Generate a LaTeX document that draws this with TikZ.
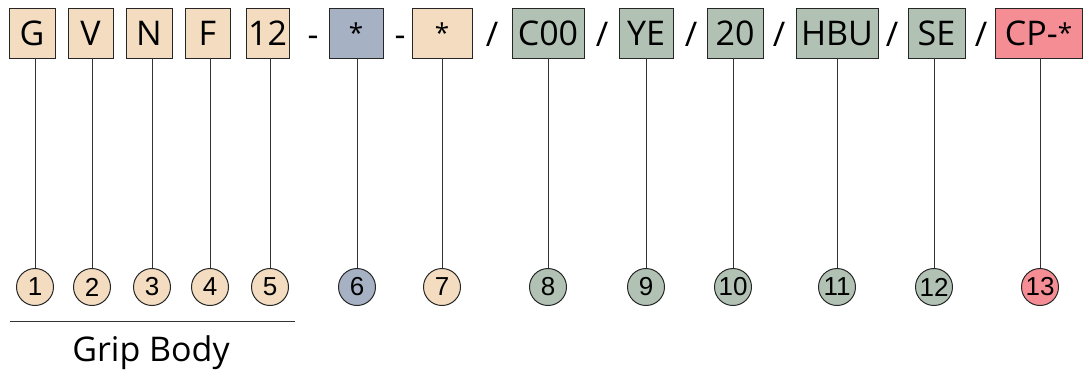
\documentclass[tikz,border=0pt]{standalone}
\usepackage{fontspec}
\setmainfont{Open Sans}
\newfontfamily\digitfont{Liberation Sans}
\usepackage{xcolor}
\usetikzlibrary{positioning}

\definecolor{beige}{HTML}{F3DCC0}
\definecolor{slate}{HTML}{A6B1C4}
\definecolor{sage}{HTML}{B1C2B5}
\definecolor{rose}{HTML}{F58D95}

\newcommand{\wild}{{\fontsize{26}{26}\selectfont\raisebox{3pt}{*}}}

\tikzset{
    codebox/.style={draw=black!85, line width=0.9pt, minimum height=50pt, inner sep=0pt,
        text height=24pt, text depth=0pt, font=\fontsize{34}{34}\selectfont},
    numcirc/.style={circle, draw=black!85, line width=1pt, minimum size=37pt, inner sep=0pt,
        font=\digitfont\fontsize{26}{26}\selectfont},
    sepmark/.style={anchor=base, inner sep=0pt, font=\fontsize{34}{34}\selectfont},
    link/.style={draw=black!80, line width=0.8pt}
}

\begin{document}
\begin{tikzpicture}[x=1pt, y=-1pt]
    \useasboundingbox (0,0) rectangle (1084,370);
    % code boxes and numbered circles
    \foreach \n/\txt/\l/\r/\lx/\col in {1/G/9/55/35/beige, 2/V/68/113/92/beige, 3/N/126/172/152/beige,
        4/F/185/230/210/beige, 5/12/246/289/270/beige, 6/\wild/329/383/357/slate, 7/\wild/412/472/442/beige,
        8/C00/512/584/548/sage, 9/YE/619/673/646/sage, 10/20/707/763/733/sage, 11/HBU/796/878/837/sage,
        12/SE/908/965/934/sage, 13/CP-\wild/995/1082/1040/rose} {
        \pgfmathsetmacro\w{\r-\l}
        \pgfmathsetmacro\cx{(\l+\r)/2}
        \node[codebox, fill=\col, minimum width=\w pt] (box\n) at (\cx,33) {\txt};
        \node[numcirc, fill=\col] (num\n) at (\lx,287) {\n};
        \draw[link] (num\n.north) -- (num\n |- box\n.south);
    }
    % separators
    \foreach \sx [count=\i] in {313,400} {
        \node[sepmark] (dash\i) at (\sx,46) {-};
    }
    \foreach \sx [count=\i] in {492,602,691,779,892,981} {
        \node[sepmark] (slash\i) at (\sx,46) {/};
    }
    % grip body
    \coordinate (gbleft) at (10,321);
    \coordinate (gbright) at (295,321);
    \draw[link] (gbleft) -- (gbright);
    \node[anchor=base, inner sep=0pt, font=\fontsize{34}{34}\selectfont] (gripbody) at (151,361) {Grip Body};
\end{tikzpicture}
\end{document}
